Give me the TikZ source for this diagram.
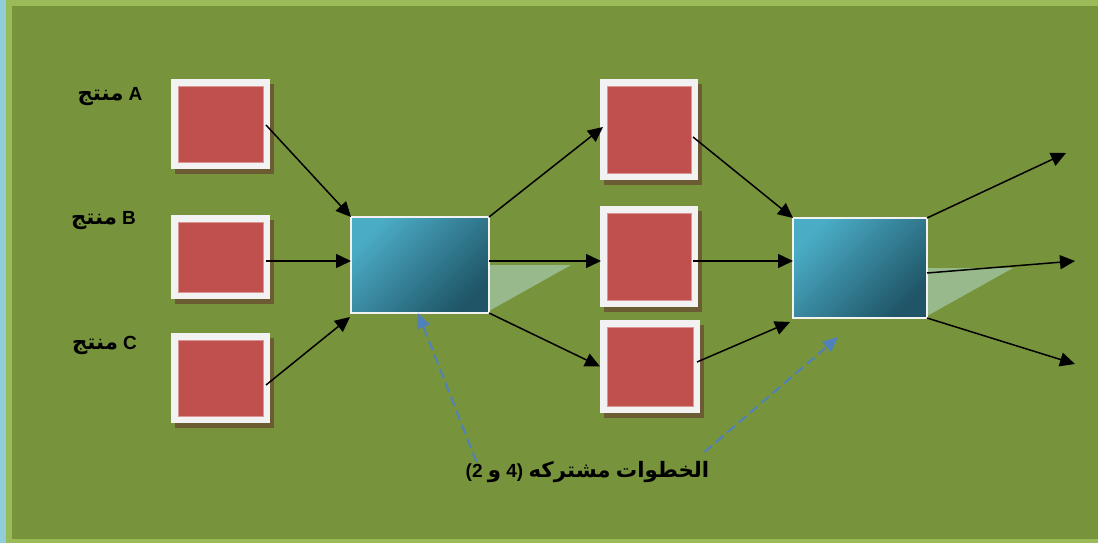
\documentclass[tikz,border=0pt]{standalone}
\usepackage{fontspec}
\setmainfont{Liberation Sans}
\newfontfamily\arabicfont[Script=Arabic,Scale=1.12]{DejaVu Sans}
\usetikzlibrary{arrows.meta,shadows,calc}
\definecolor{olivebg}{HTML}{77933C}
\definecolor{lightgr}{HTML}{9BBB59}
\definecolor{lightbl}{HTML}{92CDDC}
\definecolor{redc}{HTML}{C0504D}
\definecolor{redline}{HTML}{D99694}
\definecolor{framec}{HTML}{F2F2F2}
\definecolor{shadowc}{HTML}{6B5C34}
\definecolor{bluelight}{HTML}{4BACC6}
\definecolor{bluedark}{HTML}{1F5567}
\definecolor{tric}{HTML}{97B98B}
\definecolor{dashblue}{HTML}{4F81BD}
\begin{document}
\begin{tikzpicture}[x=1pt,y=-1pt,
  rbox/.style={fill=framec, inner sep=0pt, outer sep=0pt,
    drop shadow={shadow xshift=4pt, shadow yshift=-5pt, fill=shadowc, opacity=1},
    path picture={\fill[redc, draw=redline, line width=0.8pt]
      ([shift={(7pt,7pt)}]path picture bounding box.south west) rectangle
      ([shift={(-7pt,-7pt)}]path picture bounding box.north east);}},
  pbox/.style={draw=framec, line width=2pt, inner sep=0pt, outer sep=0pt,
    top color=bluelight, bottom color=bluedark, shading angle=45},
  arr/.style={draw=black, line width=1.5pt, -{Triangle[length=15pt,width=14pt]}},
  dsh/.style={draw=dashblue, line width=2pt, dash pattern=on 10pt off 5pt,
    -{Triangle[length=15pt,width=13pt]}},
  lab/.style={font=\bfseries\fontsize{19}{22}\selectfont, inner sep=0pt}
]
\useasboundingbox (0,0) rectangle (1098,543);
% background
\fill[lightbl] (0,0) rectangle (6,543);
\fill[lightgr] (6,0) rectangle (1098,543);
\fill[olivebg] (12,6) rectangle (1098,539);
% triangles
\fill[tric] (489,265) -- (571,265) -- (489,311) -- cycle;
\fill[tric] (927,268) -- (1013,268) -- (927,316) -- cycle;
% red boxes
\node[rbox, minimum width=99pt, minimum height=90pt] (A) at (220.5,124) {};
\node[rbox, minimum width=99pt, minimum height=84pt] (B) at (220.5,257) {};
\node[rbox, minimum width=99pt, minimum height=90pt] (C) at (220.5,378) {};
\node[rbox, minimum width=98pt, minimum height=101pt] (M1) at (649,129.5) {};
\node[rbox, minimum width=98pt, minimum height=101pt] (M2) at (649,256.5) {};
\node[rbox, minimum width=100pt, minimum height=93pt] (M3) at (650,366.5) {};
% process boxes
\node[pbox, minimum width=138pt, minimum height=96pt] (P1) at (420,265) {};
\node[pbox, minimum width=134pt, minimum height=100pt] (P2) at (860,268) {};
% labels
\node[lab] (LA) at (110,97) {{\arabicfont منتج} A};
\node[lab] (LB) at (103.5,221) {{\arabicfont منتج} B};
\node[lab] (LC) at (104.5,345) {{\arabicfont منتج} C};
\node[lab] (L) at (587.5,472) {(2 {\arabicfont و} 4) {\arabicfont مشتركه} {\arabicfont الخطوات}};
% free ends
\coordinate (O1) at (1066,153);
\coordinate (O2) at (1075,261);
\coordinate (O3) at (1075,364);
% connectors
\draw[arr] ($(A.east)+(-4,1)$) -- (P1.north west);
\draw[arr] ($(B.east)+(-4,4)$) -- ($(P1.west)+(0,-4)$);
\draw[arr] ($(C.east)+(-4,7)$) -- ($(P1.south west)+(-1,4)$);
\draw[arr] (P1.north east) -- ($(M1.west)+(3,-2.5)$);
\draw[arr] ($(P1.east)+(0,-4)$) -- ($(M2.west)+(1,4.5)$);
\draw[arr] (P1.south east) -- (M3.west);
\draw[arr] ($(M1.east)+(-5,7.5)$) -- (P2.north west);
\draw[arr] ($(M2.east)+(-5,4.5)$) -- ($(P2.west)+(0,-7)$);
\draw[arr] ($(M3.east)+(-3,-4.5)$) -- ($(P2.south west)+(-3,4)$);
\draw[arr] (P2.north east) -- (O1);
\draw[arr] ($(P2.east)+(0,5)$) -- (O2);
\draw[arr] (P2.south east) -- (O3);
% dashed pointers
\draw[dsh] ($(L.center)+(-111,-10)$) -- ($(P1.south)+(-2,0)$);
\draw[dsh] ($(L.center)+(117,-20)$) -- ($(P2.south)+(-22,19)$);
\end{tikzpicture}
\end{document}
